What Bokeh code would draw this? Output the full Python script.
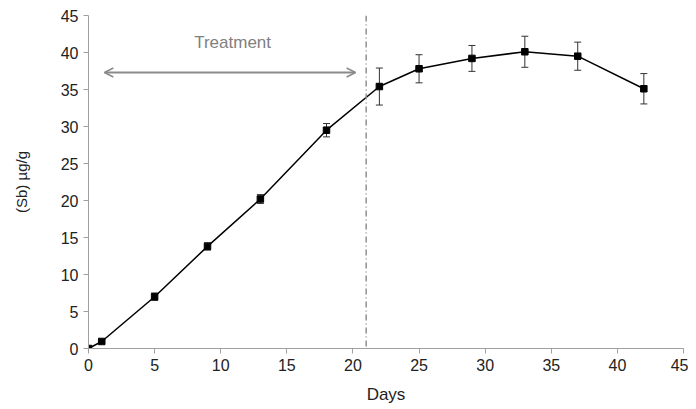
from bokeh.plotting import figure
from bokeh.models import ColumnDataSource, Whisker, TeeHead, Arrow, OpenHead, Span, Label, FixedTicker
from bokeh.embed import file_html
from bokeh.resources import INLINE

days = [0, 1, 5, 9, 13, 18, 22, 25, 29, 33, 37, 42]
sb = [0.0, 0.95, 7.0, 13.8, 20.2, 29.5, 35.4, 37.8, 39.2, 40.1, 39.5, 35.1]
err = [0.0, 0.2, 0.5, 0.5, 0.6, 0.9, 2.5, 1.9, 1.75, 2.1, 1.9, 2.05]
ticks = [0, 5, 10, 15, 20, 25, 30, 35, 40, 45]
treatment_end = 21
arrow_start, arrow_end, arrow_y = 1.2, 20.2, 37.3
label_x, label_y = 10.9, 41.3

src = ColumnDataSource(dict(x=days, y=sb,
                            lo=[v - e for v, e in zip(sb, err)],
                            hi=[v + e for v, e in zip(sb, err)]))

FONT = "Liberation Sans"
p = figure(width=688, height=409, x_range=(0, 45), y_range=(0, 45),
           output_backend="svg", toolbar_location=None,
           min_border_left=88, min_border_right=5, min_border_top=15, min_border_bottom=61)
p.outline_line_color = None
p.xgrid.visible = False
p.ygrid.visible = False

for ax in (p.xaxis[0], p.yaxis[0]):
    ax.ticker = FixedTicker(ticks=ticks)
    ax.minor_tick_line_color = None
    ax.axis_line_color = "#a0a0a0"
    ax.major_tick_line_color = "#a0a0a0"
    ax.major_tick_out = 5
    ax.major_tick_in = 0
    ax.major_label_text_font = FONT
    ax.major_label_text_font_size = "16px"
    ax.major_label_text_color = "#222222"
    ax.axis_label_text_font = FONT
    ax.axis_label_text_font_style = "normal"
    ax.axis_label_text_color = "#222222"

p.xaxis.axis_label = "Days"
p.yaxis.axis_label = "(Sb) µg/g"
p.xaxis.axis_label_text_font_size = "17px"
p.yaxis.axis_label_text_font_size = "15px"
p.xaxis.axis_label_standoff = 11
p.yaxis.axis_label_standoff = 28
p.xaxis.major_label_standoff = 5
p.yaxis.major_label_standoff = 5

p.add_layout(Span(location=treatment_end, dimension="height", line_color="#909090",
                  line_width=1.5, line_dash="6 3 1 3"))

p.add_layout(Whisker(source=src, base="x", lower="lo", upper="hi", line_color="#333333",
                     line_width=1,
                     upper_head=TeeHead(size=7, line_color="#333333", line_width=1),
                     lower_head=TeeHead(size=7, line_color="#333333", line_width=1)))

p.line("x", "y", source=src, line_color="black", line_width=1.5)
p.scatter("x", "y", source=src, marker="square", size=6.5, fill_color="black", line_color="black")

p.add_layout(Arrow(x_start=arrow_start, x_end=arrow_end, y_start=arrow_y, y_end=arrow_y,
                   line_color="#8a8a8a", line_width=2,
                   start=OpenHead(size=9, line_color="#8a8a8a", line_width=1.5),
                   end=OpenHead(size=9, line_color="#8a8a8a", line_width=1.5)))
p.add_layout(Label(x=label_x, y=label_y, text="Treatment", text_align="center",
                   text_baseline="middle", text_font=FONT, text_font_size="17px",
                   text_color="#808080"))

open("out.html", "w").write(file_html(p, INLINE))
